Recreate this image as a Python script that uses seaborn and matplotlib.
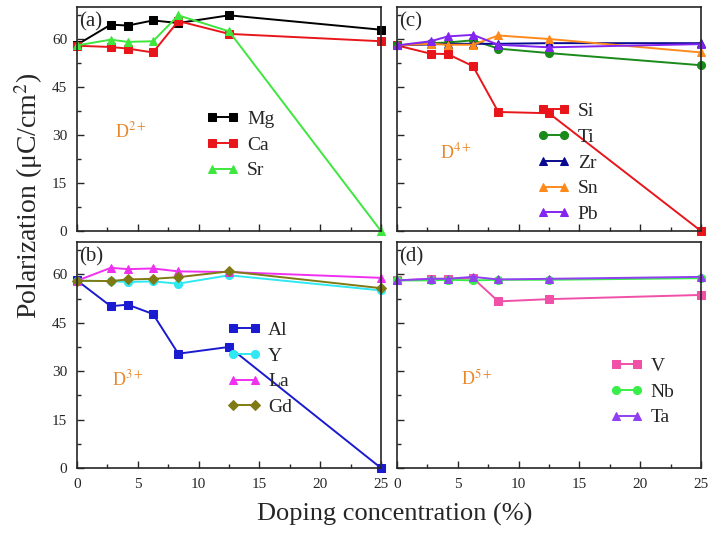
import numpy as np
import pandas as pd
import matplotlib
matplotlib.use("Agg")
import matplotlib.pyplot as plt
from matplotlib.ticker import MultipleLocator
import seaborn as sns

# Doping concentrations (%)
conc = [0, 2.78, 4.17, 6.25, 8.33, 12.5, 25]

# (a) divalent dopants
mg = [58.2, 64.5, 64.2, 65.8, 65.0, 67.4, 62.9]
ca = [57.9, 57.5, 57.0, 55.8, 65.6, 61.6, 59.3]
sr = [58.0, 59.8, 59.1, 59.3, 67.4, 62.4, 0.0]

# (b) trivalent dopants
al = [58.1, 50.1, 50.6, 47.7, 35.4, 37.5, 0.0]
y_ = [58.0, 57.9, 57.6, 57.8, 57.1, 59.7, 55.0]
la = [58.0, 62.0, 61.6, 61.8, 60.9, 60.7, 58.9]
gd = [58.0, 57.9, 58.4, 58.6, 59.1, 60.9, 55.7]

# (c) tetravalent dopants
si = [58.0, 55.4, 55.3, 51.5, 37.2, 36.8, 0.0]
ti = [58.0, 58.7, 58.9, 59.6, 57.0, 55.6, 51.8]
zr = [58.0, 58.3, 58.5, 58.5, 58.5, 58.7, 58.7]
sn = [58.0, 58.5, 58.2, 58.2, 61.1, 60.0, 55.8]
pb = [58.0, 59.3, 60.8, 61.3, 58.2, 57.4, 58.4]

# (d) pentavalent dopants
v = [58.1, 58.6, 58.6, 58.8, 51.6, 52.3, 53.6]
nb = [58.1, 58.1, 58.3, 58.1, 58.3, 58.3, 58.8]
ta = [58.1, 58.6, 58.6, 59.2, 58.4, 58.6, 59.2]

panels = {
    "a": {"tag": "(a)", "ion": "D$^{2+}$",
          "series": [("Mg", mg, "#000000", "s"), ("Ca", ca, "#e8161b", "s"),
                     ("Sr", sr, "#3ee63e", "^")]},
    "b": {"tag": "(b)", "ion": "D$^{3+}$",
          "series": [("Al", al, "#1a1ad0", "s"), ("Y", y_, "#2ee8f2", "o"),
                     ("La", la, "#f030f0", "^"), ("Gd", gd, "#807a14", "D")]},
    "c": {"tag": "(c)", "ion": "D$^{4+}$",
          "series": [("Si", si, "#e8161b", "s"), ("Ti", ti, "#1a8a1a", "o"),
                     ("Zr", zr, "#0a0a90", "^"), ("Sn", sn, "#ff8a1c", "^"),
                     ("Pb", pb, "#8424f0", "^")]},
    "d": {"tag": "(d)", "ion": "D$^{5+}$",
          "series": [("V", v, "#f050a8", "s"), ("Nb", nb, "#3aee4a", "o"),
                     ("Ta", ta, "#9040f0", "^")]},
}

sns.set_theme(style="ticks")
plt.rcParams["font.family"] = ["Liberation Serif", "DejaVu Serif"]
plt.rcParams["mathtext.fontset"] = "stix"
plt.rcParams["xtick.direction"] = "in"
plt.rcParams["ytick.direction"] = "in"

fig = plt.figure(figsize=(7.09, 5.36), dpi=100)

W, H = 709, 536
def rect(l, r, t, b):
    return [l / W, 1 - b / H, (r - l) / W, (b - t) / H]

axes = {
    "a": fig.add_axes(rect(77, 381, 7, 231)),
    "c": fig.add_axes(rect(397, 701, 7, 231)),
    "b": fig.add_axes(rect(77, 381, 242, 468)),
    "d": fig.add_axes(rect(397, 701, 242, 468)),
}

legend_anchor = {"a": (0.38, 0.60), "b": (0.45, 0.71), "c": (0.415, 0.635), "d": (0.655, 0.55)}
ion_pos = {"a": (0.125, 0.42), "b": (0.115, 0.367), "c": (0.14, 0.326), "d": (0.21, 0.367)}

for key, ax in axes.items():
    info = panels[key]
    for name, vals, col, mk in info["series"]:
        df = pd.DataFrame({"x": conc, "y": vals})
        sns.lineplot(data=df, x="x", y="y", ax=ax, color=col, marker=mk,
                     markersize=5.8 if mk != "D" else 5.3, markeredgecolor=col,
                     linewidth=1.4, sort=False, label=name, clip_on=False)
    ax.set_xlim(0, 25)
    ax.set_ylim(0, 70)
    ax.xaxis.set_major_locator(MultipleLocator(5))
    ax.xaxis.set_minor_locator(MultipleLocator(2.5))
    ax.yaxis.set_major_locator(MultipleLocator(15))
    ax.yaxis.set_minor_locator(MultipleLocator(7.5))
    ax.tick_params(which="major", length=5, width=1, labelsize=11)
    ax.tick_params(axis="x", which="major", pad=7)
    ax.tick_params(axis="y", which="major", pad=7)
    ax.tick_params(which="minor", length=3, width=1)
    for s in ax.spines.values():
        s.set_linewidth(1.2)
        s.set_visible(True)
    ax.set_xlabel("")
    ax.set_ylabel("")
    if key in ("a", "c"):
        ax.tick_params(labelbottom=False)
    if key in ("c", "d"):
        ax.tick_params(labelleft=False)
    ax.text(0.008, 0.975, info["tag"], transform=ax.transAxes, fontsize=15,
            va="top", ha="left")
    ax.text(*ion_pos[key], info["ion"], transform=ax.transAxes, fontsize=13,
            color="#e8882a", va="baseline", ha="left")
    ax.legend(loc="upper left", bbox_to_anchor=legend_anchor[key], frameon=False,
              fontsize=14, numpoints=2, handlelength=1.7, handletextpad=0.4,
              labelspacing=0.42, borderpad=0.2)

fig.text(0.04, 0.634, "Polarization (μC/cm$^{2}$)", rotation=90, fontsize=20,
         ha="center", va="center")
fig.text(0.557, 0.04, "Doping concentration (%)", fontsize=19, ha="center",
         va="center")

fig.savefig("out.png", dpi=100)
